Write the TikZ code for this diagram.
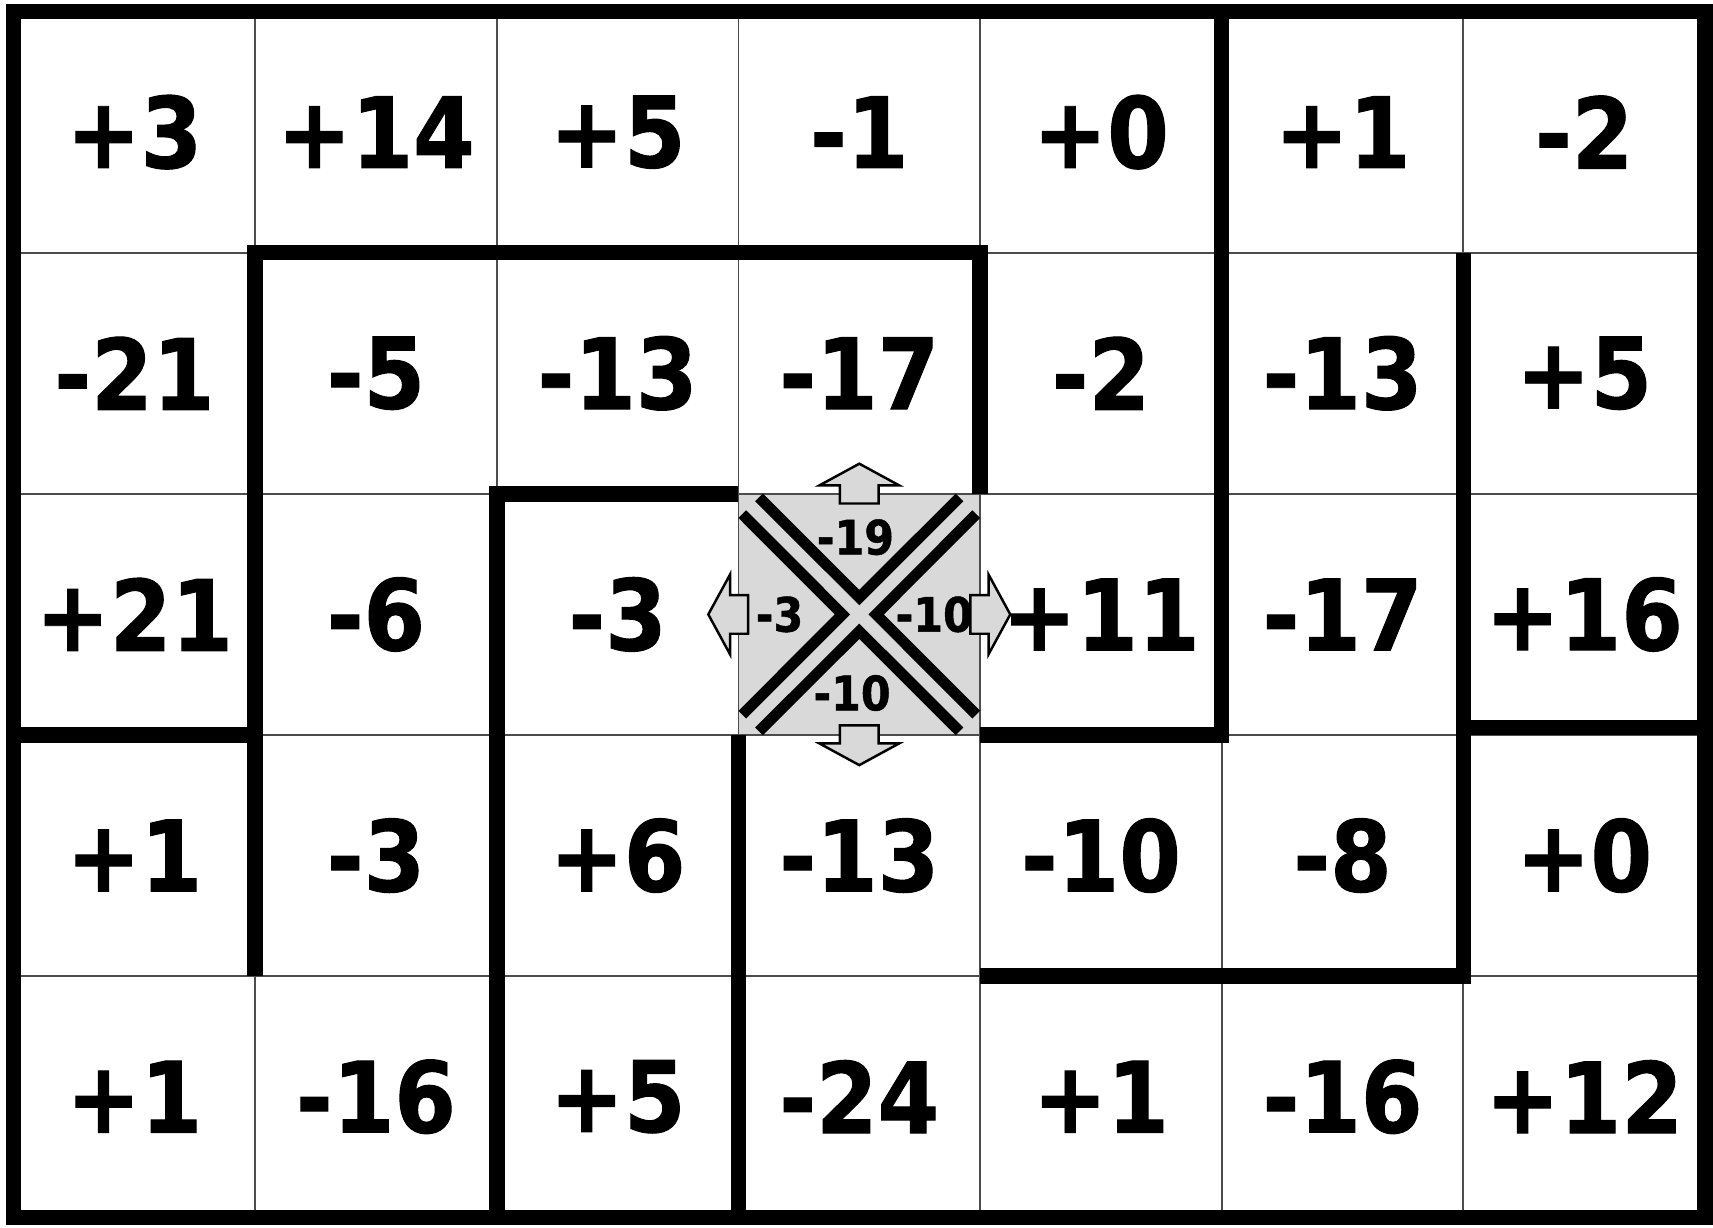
\documentclass[tikz,border=0pt]{standalone}
\usepackage{fontspec}
\newfontfamily\cellfont{DejaVu Sans}[FakeStretch=0.9, FakeBold=1]

\tikzset{
  gridline/.style={line width=0.55pt, black!70},
  wall/.style={line width=4.4pt, line join=miter},
  number/.style={font=\cellfont\bfseries\fontsize{28}{28}\selectfont, inner sep=0pt},
  smallnum/.style={font=\cellfont\bfseries\fontsize{13.5}{13.5}\selectfont, inner sep=0pt},
  chevron/.style={line width=3.1pt, line join=miter},
  pushbox/.style={draw, line width=0.7pt, fill=black!15, line join=miter},
  push/.pic={\draw[pushbox] (-0.08,-0.04) -- (-0.08,0.035) -- (-0.165,0.035) -- (0,0.125)
                 -- (0.165,0.035) -- (0.08,0.035) -- (0.08,-0.04) -- cycle;}
}

\begin{document}
\begin{tikzpicture}[x=2.417cm, y=2.412cm]
    \useasboundingbox (-0.056,-0.041) rectangle (7.033,5.048);

    % grey cell and thin grid
    \fill[black!15] (3,2) rectangle (4,3);
    \foreach \i in {1,...,6}
        \draw[gridline] (\i,0) -- (\i,5);
    \foreach \j in {1,...,4}
        \draw[gridline] (0,\j) -- (7,\j);

    % cell values, top row first
    \foreach \vals [count=\r] in {{+3,+14,+5,-1,+0,+1,-2},
                                  {-21,-5,-13,-17,-2,-13,+5},
                                  {+21,-6,-3,{},+11,-17,+16},
                                  {+1,-3,+6,-13,-10,-8,+0},
                                  {+1,-16,+5,-24,+1,-16,+12}} {
        \foreach \v [count=\c] in \vals {
            \ifx\v\empty\else
                \node[number] (cell-\r-\c) at (\c-0.5, 5.5-\r) {\v};
            \fi
        }
    }

    % thick walls
    \draw[wall] (0,0) rectangle (7,5);
    \draw[wall] (1,1) -- (1,4) -- (4,4) -- (4,3);
    \draw[wall] (0,2) -- (1,2);
    \draw[wall] (2,0) -- (2,3) -- (3,3);
    \draw[wall] (3,2) -- (3,0);
    \draw[wall] (4,2) -- (5,2) -- (5,5);
    \draw[wall] (6,4) -- (6,1) -- (4,1);
    \draw[wall] (6,2.03) -- (7,2.03);

    % the crossing in the grey cell
    \foreach \a in {0,90,180,270}
        \draw[chevron, rotate around={\a:(3.5,2.5)}] (3.085,2.985) -- (3.5,2.57) -- (3.915,2.985);

    \pic at (3.5,3) {push};
    \pic[rotate=180] at (3.5,2) {push};
    \pic[rotate=90] at (3,2.5) {push};
    \pic[rotate=-90] at (4,2.5) {push};

    \node[smallnum] (go-up) at (3.484,2.82) {-19};
    \node[smallnum] (go-left) at (3.17,2.5) {-3};
    \node[smallnum] (go-right) at (3.81,2.5) {-10};
    \node[smallnum] (go-down) at (3.47,2.174) {-10};
\end{tikzpicture}
\end{document}
